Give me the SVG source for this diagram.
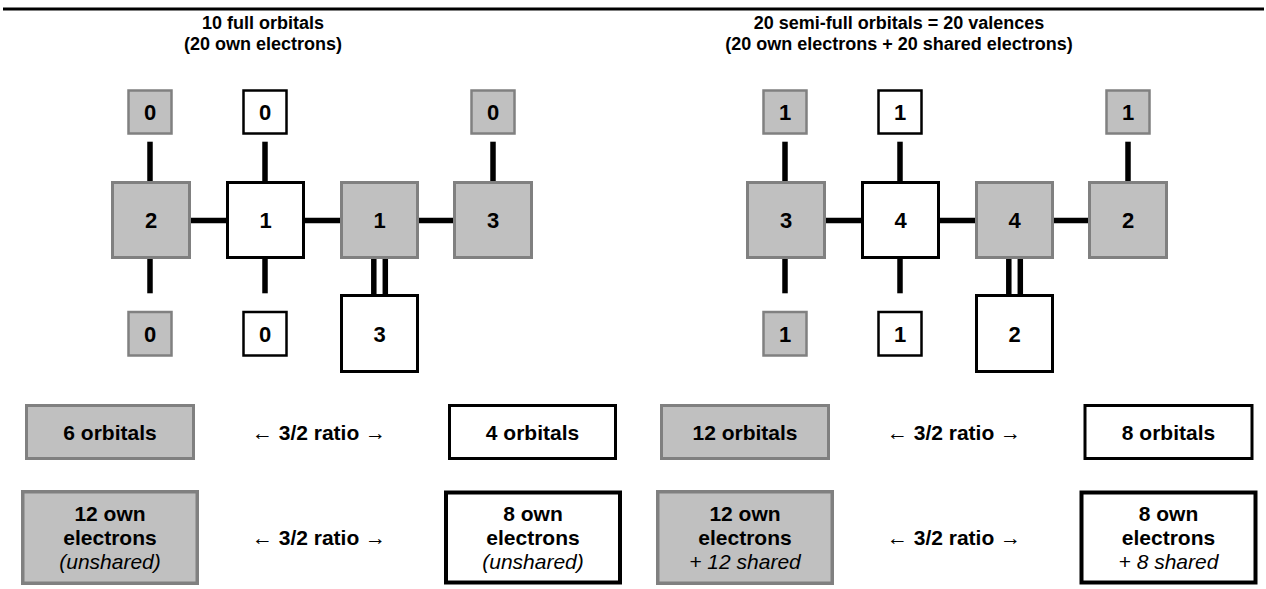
<svg xmlns="http://www.w3.org/2000/svg" width="1266" height="589" viewBox="0 0 1266 589">
<style>
text{font-family:"Liberation Sans",Arial,sans-serif;fill:#000;text-anchor:middle}
.t{font-size:18px;font-weight:bold}
.d{font-size:22px;font-weight:bold}
.l{font-size:21px;font-weight:bold}
.i{font-size:21px;font-style:italic;font-weight:normal}
.ar{font-weight:normal}
.g{fill:#c0c0c0;stroke:#808080;stroke-width:3}
.w{fill:#fff;stroke:#000;stroke-width:3}
.gs{fill:#c0c0c0;stroke:#808080;stroke-width:2.5}
.ws{fill:#fff;stroke:#000;stroke-width:2.5}
.c{stroke:#000;stroke-width:5.5;fill:none}
</style>
<line x1="3" y1="9" x2="1264" y2="9" stroke="#000" stroke-width="3"/>

<g id="titles">
<text class="t" x="263" y="29">10 full orbitals</text>
<text class="t" x="263" y="50">(20 own electrons)</text>
<text class="t" x="899" y="29">20 semi-full orbitals = 20 valences</text>
<text class="t" x="899" y="50">(20 own electrons + 20 shared electrons)</text>
</g>

<g id="connectors">
<line class="c" x1="150" y1="141.7" x2="150" y2="181"/>
<line class="c" x1="265" y1="141.7" x2="265" y2="181"/>
<line class="c" x1="493" y1="141.7" x2="493" y2="181"/>
<line class="c" x1="150" y1="259" x2="150" y2="293.3"/>
<line class="c" x1="265" y1="259" x2="265" y2="293.3"/>
<line class="c" x1="191" y1="220.5" x2="226" y2="220.5"/>
<line class="c" x1="305" y1="220.5" x2="340" y2="220.5"/>
<line class="c" x1="419" y1="220.5" x2="453" y2="220.5"/>
<line class="c" x1="373.8" y1="259" x2="373.8" y2="294"/>
<line class="c" x1="385.3" y1="259" x2="385.3" y2="294"/>
<line class="c" x1="785" y1="141.7" x2="785" y2="181"/>
<line class="c" x1="900" y1="141.7" x2="900" y2="181"/>
<line class="c" x1="1128" y1="141.7" x2="1128" y2="181"/>
<line class="c" x1="785" y1="259" x2="785" y2="293.3"/>
<line class="c" x1="900" y1="259" x2="900" y2="293.3"/>
<line class="c" x1="826" y1="220.5" x2="861" y2="220.5"/>
<line class="c" x1="940" y1="220.5" x2="975" y2="220.5"/>
<line class="c" x1="1054" y1="220.5" x2="1088" y2="220.5"/>
<line class="c" x1="1008.8" y1="259" x2="1008.8" y2="294"/>
<line class="c" x1="1020.3" y1="259" x2="1020.3" y2="294"/>
</g>

<g id="L-top1"><rect class="gs" x="128.5" y="90.5" width="43" height="43"/><text class="d" x="150" y="120">0</text></g>
<g id="L-top2"><rect class="ws" x="243.5" y="90.5" width="43" height="43"/><text class="d" x="265" y="120">0</text></g>
<g id="L-top4"><rect class="gs" x="471.5" y="90.5" width="43" height="43"/><text class="d" x="493" y="120">0</text></g>
<g id="L-a"><rect class="g" x="112.5" y="182.5" width="77" height="75"/><text class="d" x="151" y="228">2</text></g>
<g id="L-b"><rect class="w" x="227.5" y="182.5" width="76" height="75"/><text class="d" x="265.5" y="228">1</text></g>
<g id="L-c"><rect class="g" x="341.5" y="182.5" width="76" height="75"/><text class="d" x="379.5" y="228">1</text></g>
<g id="L-d"><rect class="g" x="454.5" y="182.5" width="77" height="75"/><text class="d" x="493" y="228">3</text></g>
<g id="L-bot1"><rect class="gs" x="128.5" y="312" width="43" height="43.5"/><text class="d" x="150" y="341.7">0</text></g>
<g id="L-bot2"><rect class="ws" x="243.5" y="312" width="43" height="43.5"/><text class="d" x="265" y="341.7">0</text></g>
<g id="L-e"><rect class="w" x="341.5" y="295.5" width="76" height="76"/><text class="d" x="379.5" y="341.7">3</text></g>

<g id="R-top1"><rect class="gs" x="763.5" y="90.5" width="43" height="43"/><text class="d" x="785" y="120">1</text></g>
<g id="R-top2"><rect class="ws" x="878.5" y="90.5" width="43" height="43"/><text class="d" x="900" y="120">1</text></g>
<g id="R-top4"><rect class="gs" x="1106.5" y="90.5" width="43" height="43"/><text class="d" x="1128" y="120">1</text></g>
<g id="R-a"><rect class="g" x="747.5" y="182.5" width="77" height="75"/><text class="d" x="786" y="228">3</text></g>
<g id="R-b"><rect class="w" x="862.5" y="182.5" width="76" height="75"/><text class="d" x="900.5" y="228">4</text></g>
<g id="R-c"><rect class="g" x="976.5" y="182.5" width="76" height="75"/><text class="d" x="1014.5" y="228">4</text></g>
<g id="R-d"><rect class="g" x="1089.5" y="182.5" width="77" height="75"/><text class="d" x="1128" y="228">2</text></g>
<g id="R-bot1"><rect class="gs" x="763.5" y="312" width="43" height="43.5"/><text class="d" x="785" y="341.7">1</text></g>
<g id="R-bot2"><rect class="ws" x="878.5" y="312" width="43" height="43.5"/><text class="d" x="900" y="341.7">1</text></g>
<g id="R-e"><rect class="w" x="976.5" y="295.5" width="76" height="76"/><text class="d" x="1014.5" y="341.7">2</text></g>

<g id="L-orb6"><rect class="g" x="26.5" y="405.5" width="167" height="53"/><text class="l" x="110" y="439.5">6 orbitals</text></g>
<g id="L-ratio1"><text class="l" x="319" y="439.5"><tspan class="ar">←</tspan> 3/2 ratio <tspan class="ar">→</tspan></text></g>
<g id="L-orb4"><rect class="w" x="449.5" y="405.5" width="166" height="53"/><text class="l" x="532.5" y="439.5">4 orbitals</text></g>
<g id="L-el12"><rect class="g" x="22.75" y="491.75" width="174.5" height="91.5" style="stroke-width:3.5"/>
<text class="l" x="110" y="521">12 own</text><text class="l" x="110" y="545">electrons</text><text class="i" x="110" y="568.5">(unshared)</text></g>
<g id="L-ratio2"><text class="l" x="319" y="545"><tspan class="ar">←</tspan> 3/2 ratio <tspan class="ar">→</tspan></text></g>
<g id="L-el8"><rect class="w" x="446" y="492.5" width="174" height="90" style="stroke-width:4"/>
<text class="l" x="533" y="521">8 own</text><text class="l" x="533" y="545">electrons</text><text class="i" x="533" y="568.5">(unshared)</text></g>

<g id="R-orb12"><rect class="g" x="661.5" y="405.5" width="167" height="53"/><text class="l" x="745" y="439.5">12 orbitals</text></g>
<g id="R-ratio1"><text class="l" x="954" y="439.5"><tspan class="ar">←</tspan> 3/2 ratio <tspan class="ar">→</tspan></text></g>
<g id="R-orb8"><rect class="w" x="1085" y="405.5" width="167" height="53"/><text class="l" x="1168.5" y="439.5">8 orbitals</text></g>
<g id="R-el12"><rect class="g" x="657.75" y="491.75" width="174.5" height="91.5" style="stroke-width:3.5"/>
<text class="l" x="745" y="521">12 own</text><text class="l" x="745" y="545">electrons</text><text class="i" x="745" y="568.5">+ 12 shared</text></g>
<g id="R-ratio2"><text class="l" x="954" y="545"><tspan class="ar">←</tspan> 3/2 ratio <tspan class="ar">→</tspan></text></g>
<g id="R-el8"><rect class="w" x="1081.5" y="492.5" width="174" height="90" style="stroke-width:4"/>
<text class="l" x="1168.5" y="521">8 own</text><text class="l" x="1168.5" y="545">electrons</text><text class="i" x="1168.5" y="568.5">+ 8 shared</text></g>
</svg>
